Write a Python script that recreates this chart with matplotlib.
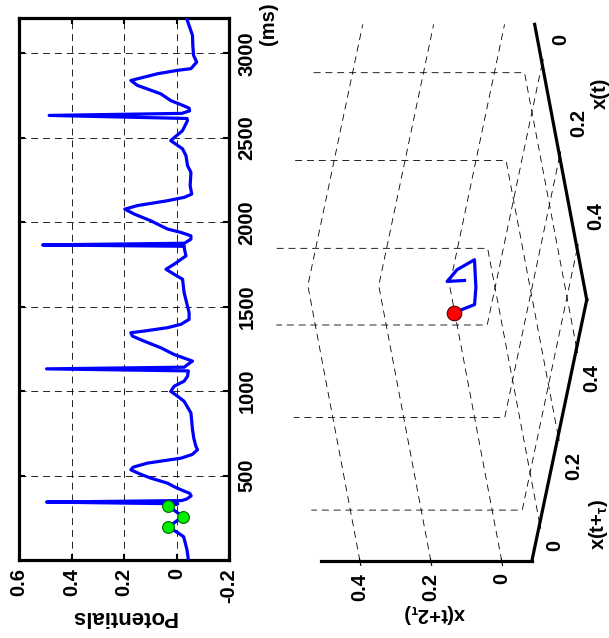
import numpy as np
import matplotlib
matplotlib.use("Agg")
import matplotlib.pyplot as plt

plt.rcParams['font.family'] = ['Liberation Sans', 'DejaVu Sans']
plt.rcParams['font.weight'] = 'bold'
plt.rcParams['lines.scale_dashes'] = False
plt.rcParams['grid.color'] = 'black'
plt.rcParams['grid.linestyle'] = (0, (5, 3.5))
plt.rcParams['grid.linewidth'] = 0.6
plt.rcParams['mathtext.fontset'] = 'custom'
plt.rcParams['mathtext.rm'] = 'Liberation Sans:bold'
plt.rcParams['mathtext.it'] = 'Liberation Sans'
plt.rcParams['mathtext.bf'] = 'Liberation Sans:bold'

# ---------------- data ----------------
time_ms = [5, 60, 110, 138, 165, 194, 225, 257, 290, 322, 333, 343, 352, 362, 380, 395,
           416, 435, 455, 485, 510, 534, 550, 574, 590, 603, 625, 653, 673, 720, 772,
           871, 940, 970, 999, 1029, 1059, 1088, 1120, 1132, 1142, 1155, 1178, 1217,
           1257, 1296, 1326, 1346, 1356, 1376, 1396, 1425, 1465, 1584, 1663, 1692,
           1722, 1752, 1801, 1851, 1858, 1866, 1876, 1900, 1920, 1940, 1960, 2009,
           2049, 2078, 2099, 2128, 2148, 2167, 2217, 2296, 2336, 2395, 2435, 2484,
           2543, 2603, 2615, 2633, 2645, 2660, 2676, 2693, 2721, 2761, 2811, 2840,
           2880, 2900, 2910, 2949, 2989, 3050, 3107, 3210]
potential = [-0.045, -0.040, -0.032, -0.027, -0.002, 0.032, 0.005, -0.023, 0.005, 0.032,
             -0.005, 0.495, -0.020, -0.040, -0.056, -0.050, -0.017, 0.010, 0.034, 0.098,
             0.140, 0.174, 0.165, 0.110, 0.040, -0.017, -0.060, -0.080, -0.074, -0.066,
             -0.061, -0.055, -0.029, -0.004, 0.022, 0.009, -0.029, -0.042, -0.045, 0.495,
             -0.030, -0.040, -0.061, 0.009, 0.060, 0.123, 0.168, 0.174, 0.123, 0.034,
             -0.017, -0.048, -0.048, -0.029, -0.023, 0.009, 0.040, 0.009, -0.036, -0.029,
             -0.030, 0.510, -0.030, -0.055, -0.055, -0.017, 0.034, 0.098, 0.161, 0.197,
             0.149, 0.034, -0.030, -0.058, -0.052, -0.055, -0.042, -0.036, -0.023, 0.022,
             -0.023, -0.042, -0.040, 0.485, -0.020, -0.050, -0.048, -0.023, 0.022, 0.060,
             0.149, 0.174, 0.072, -0.004, -0.055, -0.077, -0.065, -0.062, -0.061, -0.038]

# delay samples marked on the series: x(t), x(t+tau), x(t+2tau)
marker_time = [194, 257, 322]
marker_value = [0.032, -0.023, 0.032]

# delay embedding trajectory up to current time
emb_x = [-0.045, -0.040, -0.036, -0.030, -0.010, 0.010, 0.032]
emb_y = [-0.031, -0.028, 0.003, 0.032, -0.010, -0.028, -0.023]
emb_z = [-0.018, 0.033, 0.014, -0.026, -0.036, -0.032, 0.032]

pot_ticks = [0.6, 0.4, 0.2, 0, -0.2]
pot_labels = ['0.6', '0.4', '0.2', '0', '-0.2']
time_ticks = [500, 1000, 1500, 2000, 2500, 3000]
emb_ticks = [0, 0.2, 0.4]
emb_labels = ['0', '0.2', '0.4']

# ---------------- figure ----------------
W, H = 609, 638
fig = plt.figure(figsize=(W / 100, H / 100), dpi=100)


def px(l, t, r, b):
    return [l / W, 1 - b / H, (r - l) / W, (b - t) / H]


def ftext(x, y, s, rot, **kw):
    fig.text(x / W, 1 - y / H, s, rotation=rot, ha='center', va='center',
             fontsize=FS, fontweight='bold', **kw)


FS = 14.5

# ---- time series panel (rotated view) ----
ax1 = fig.add_axes(px(19, 18, 229, 560))
ax1.plot(potential, time_ms, color='#0000FF', lw=2.3, zorder=3)
ax1.plot(marker_value, marker_time, 'o', ms=8.5, mfc='#00EE00', mec='#006600', mew=0.8, zorder=4)
ax1.set_xlim(0.6, -0.2)
ax1.set_ylim(0, 3210)
ax1.set_xticks(pot_ticks)
ax1.set_xticklabels(pot_labels, rotation=90, fontsize=FS, fontweight='bold')
ax1.set_yticks(time_ticks)
ax1.set_yticklabels([str(v) for v in time_ticks], rotation=90, fontsize=FS,
                    fontweight='bold', va='center')
ax1.yaxis.tick_right()
ax1.tick_params(axis='both', direction='in', length=4, width=1.5,
                top=True, bottom=True, left=True, right=True)
ax1.tick_params(axis='x', pad=6)
ax1.tick_params(axis='y', pad=6)
ax1.grid(True)
for s in ax1.spines.values():
    s.set_linewidth(2.3)
ax1.set_xlabel('Potentials', rotation=180, fontsize=16, fontweight='bold', va='center')
ax1.xaxis.set_label_coords(0.5, -0.105)
ax1.text(1.19, 0.99, '(ms)', transform=ax1.transAxes, rotation=90,
         ha='center', va='center', fontsize=FS, fontweight='bold')

# ---- delay embedding panel (3D, rotated view) ----
ax2 = fig.add_axes(px(264, -22, 583, 616), projection='3d', proj_type='ortho')
ax2.plot(emb_x, emb_y, emb_z, color='#0000FF', lw=2.3)
ax2.plot([emb_x[-1]], [emb_y[-1]], [emb_z[-1]], 'o', ms=10.5, mfc='#FF0000', mec='#550000', mew=0.8)
lim = (-0.085, 0.51)
ax2.set_xlim(lim)
ax2.set_ylim(lim)
ax2.set_zlim(lim)
ax2.set_box_aspect((1, 1, 0.567), zoom=1.76)
ax2.view_init(elev=11.5, azim=46.5, roll=90)
for axis in (ax2.xaxis, ax2.yaxis, ax2.zaxis):
    axis.set_pane_color((1, 1, 1, 0))
    axis.pane.set_edgecolor('none')
    axis.line.set_linewidth(2.3)
    axis.line.set_color('black')
ax2.set_xticks(emb_ticks)
ax2.set_yticks(emb_ticks)
ax2.set_zticks(emb_ticks)
ax2.set_xticklabels(emb_labels, rotation=90, fontsize=FS, fontweight='bold', va='bottom')
ax2.set_yticklabels(emb_labels, rotation=90, fontsize=FS, fontweight='bold')
ax2.set_zticklabels(emb_labels, rotation=90, fontsize=FS, fontweight='bold')
ax2.xaxis.set_tick_params(pad=0.6)
ax2.yaxis.set_tick_params(pad=-1.1)
ax2.zaxis.set_tick_params(pad=-5.4)

# axis labels (placed like the reference)
ftext(600, 93, 'x(t)', 90)
ftext(599, 524, r'x(t+$_{\tau}$)', 90)
ftext(435, 613, r'x(t+2$_{\tau}$)', 180)

fig.savefig('out.png', dpi=100)
